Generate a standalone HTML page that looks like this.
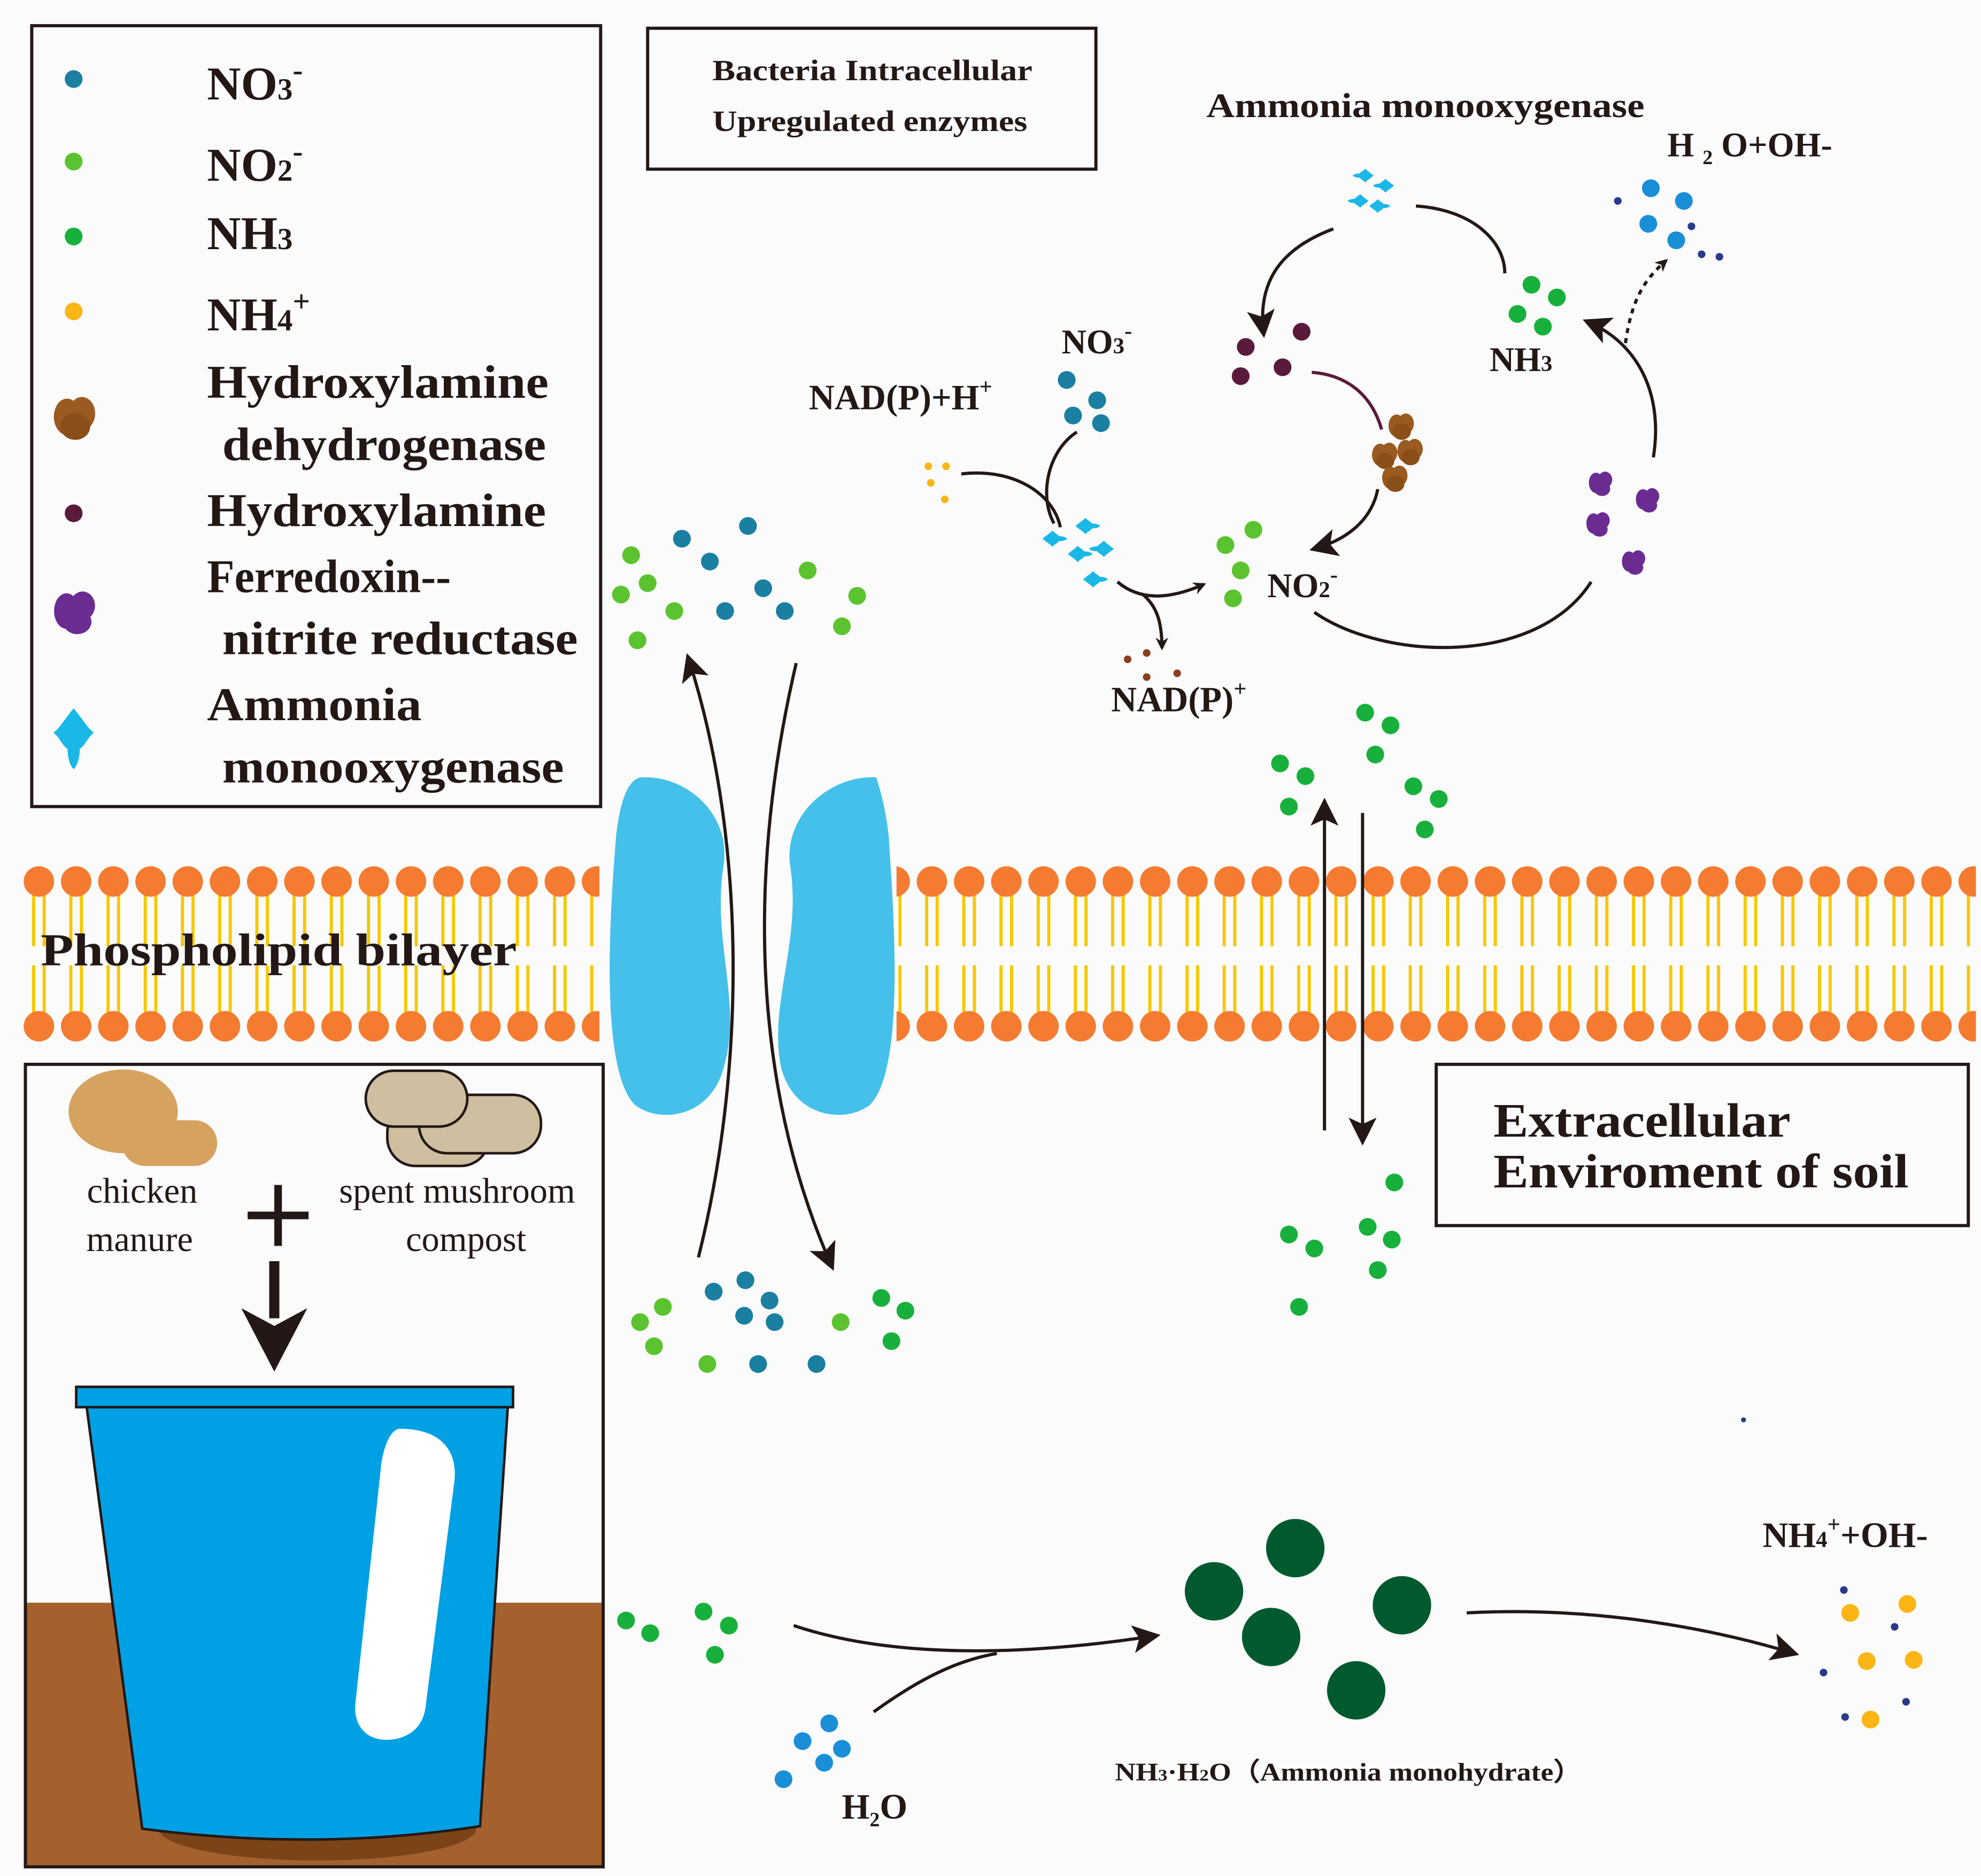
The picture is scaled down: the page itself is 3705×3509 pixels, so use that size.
<!DOCTYPE html>
<html><head><meta charset="utf-8"><style>
html,body{margin:0;padding:0;background:#fbfbfb}
svg{display:block}
text{font-family:"Liberation Serif",serif;font-weight:bold;fill:#231815}
text.n{font-weight:normal}
</style></head><body>
<svg width="3705" height="3509" viewBox="0 0 1560 1477" xmlns="http://www.w3.org/2000/svg">
<defs>
<marker id="ah" markerWidth="10" markerHeight="10" refX="8" refY="5" orient="auto" markerUnits="userSpaceOnUse"><path d="M0,0 L10,5 L0,10 L3,5 Z" fill="#231815"/></marker>
<marker id="ahb" markerWidth="22" markerHeight="22" refX="18" refY="11" orient="auto" markerUnits="userSpaceOnUse"><path d="M0,0 L22,11 L0,22 L5,11 Z" fill="#231815"/></marker>
<pattern id="top" x="16" y="0" width="29.3" height="760" patternUnits="userSpaceOnUse">
<line x1="10.5" y1="700" x2="10.5" y2="745" stroke="#f6c800" stroke-width="2.5"/>
<line x1="18.8" y1="700" x2="18.8" y2="745" stroke="#f6c800" stroke-width="2.5"/>
<circle cx="14.65" cy="694" r="12" fill="#f47b30"/>
</pattern>
<pattern id="bot" x="16" y="0" width="29.3" height="830" patternUnits="userSpaceOnUse">
<line x1="10.5" y1="760" x2="10.5" y2="802" stroke="#f6c800" stroke-width="2.5"/>
<line x1="18.8" y1="760" x2="18.8" y2="802" stroke="#f6c800" stroke-width="2.5"/>
<circle cx="14.65" cy="808" r="12" fill="#f47b30"/>
</pattern>
<g id="amo"><path d="M0,-14 C5,-8 7,-4 10,-2 C7,0 6,4 3,6 C3,10 2,14 0,16 C-2,14 -3,10 -3,6 C-6,4 -7,0 -10,-2 C-7,-4 -5,-8 0,-14Z" fill="#1ab8e6"/></g>
<g id="had"><ellipse cx="-4" cy="0" rx="8" ry="11" fill="#9a5a20"/><ellipse cx="5" cy="-2" rx="8" ry="10" fill="#9a5a20"/><ellipse cx="1" cy="6" rx="9" ry="8" fill="#8a4e18"/></g>
<g id="fer"><ellipse cx="-4" cy="0" rx="7" ry="10" fill="#6a2c91"/><ellipse cx="5" cy="-3" rx="7" ry="8" fill="#6a2c91"/><ellipse cx="2" cy="6" rx="8" ry="7" fill="#6a2c91"/></g>
</defs>
<rect width="1560" height="1477" fill="#fbfbfb"/>

<!-- legend -->
<rect x="25" y="20" width="448" height="615" fill="none" stroke="#231815" stroke-width="2.5"/>
<circle cx="58" cy="62" r="7" fill="#1a7fa0"/>
<circle cx="58" cy="127" r="7" fill="#5cc330"/>
<circle cx="58" cy="186" r="7" fill="#18b03c"/>
<circle cx="58" cy="245" r="7" fill="#fbb615"/>
<use href="#had" transform="translate(58,328) scale(1.3)"/>
<circle cx="58" cy="404" r="7" fill="#5a1a3c"/>
<use href="#fer" transform="translate(58,481) scale(1.4)"/>
<use href="#amo" transform="translate(58,580) scale(1.6)"/>
<g font-size="37">
<text x="163" y="78">NO<tspan font-size="24">3</tspan><tspan font-size="24" dy="-15">-</tspan></text>
<text x="163" y="142">NO<tspan font-size="24">2</tspan><tspan font-size="24" dy="-15">-</tspan></text>
<text x="163" y="196">NH<tspan font-size="24">3</tspan></text>
<text x="163" y="260">NH<tspan font-size="24">4</tspan><tspan font-size="24" dy="-15">+</tspan></text>
<text x="163" y="313" textLength="269" lengthAdjust="spacingAndGlyphs">Hydroxylamine</text>
<text x="175" y="362" textLength="255" lengthAdjust="spacingAndGlyphs">dehydrogenase</text>
<text x="163" y="414" textLength="267" lengthAdjust="spacingAndGlyphs">Hydroxylamine</text>
<text x="163" y="466" textLength="192" lengthAdjust="spacingAndGlyphs">Ferredoxin--</text>
<text x="175" y="515" textLength="280" lengthAdjust="spacingAndGlyphs">nitrite reductase</text>
<text x="163" y="567" textLength="169" lengthAdjust="spacingAndGlyphs">Ammonia</text>
<text x="175" y="616" textLength="269" lengthAdjust="spacingAndGlyphs">monooxygenase</text>
</g>

<rect x="510" y="22" width="353" height="111" fill="none" stroke="#231815" stroke-width="2.5"/>
<text x="561" y="63" font-size="23" textLength="252" lengthAdjust="spacingAndGlyphs">Bacteria Intracellular</text>
<text x="561" y="103" font-size="23" textLength="248" lengthAdjust="spacingAndGlyphs">Upregulated enzymes</text>

<!-- membrane -->
<rect x="16" y="670" width="456" height="90" fill="url(#top)"/>
<rect x="16" y="755" width="456" height="70" fill="url(#bot)"/>
<rect x="706" y="670" width="850" height="90" fill="url(#top)"/>
<rect x="706" y="755" width="850" height="70" fill="url(#bot)"/>
<text x="32" y="760" font-size="36" textLength="375" lengthAdjust="spacingAndGlyphs">Phospholipid bilayer</text>
<path d="M505,612 C540,610 575,640 570,680 C560,740 585,790 570,840 C560,880 520,885 500,870 C470,840 482,700 485,660 C488,630 495,613 505,612Z" fill="#44c0ea"/>
<path d="M690,612 C655,610 618,640 622,680 C632,740 605,790 615,840 C625,880 665,885 685,870 C715,840 702,700 700,660 C697,630 690,613 690,612Z" fill="#44c0ea"/>

<!-- channel arrows -->
<path d="M550,990 C590,830 585,650 542,518" fill="none" stroke="#231815" stroke-width="2.5" marker-end="url(#ahb)"/>
<path d="M627,522 C590,680 590,850 655,997" fill="none" stroke="#231815" stroke-width="2.5" marker-end="url(#ahb)"/>

<g fill="#5cc330"><circle cx="497" cy="437" r="7"/><circle cx="510" cy="459" r="7"/><circle cx="489" cy="468" r="7"/><circle cx="531" cy="481" r="7"/><circle cx="502" cy="504" r="7"/><circle cx="636" cy="449" r="7"/><circle cx="675" cy="469" r="7"/><circle cx="663" cy="493" r="7"/></g>
<g fill="#1a7fa0"><circle cx="537" cy="424" r="7"/><circle cx="589" cy="414" r="7"/><circle cx="559" cy="442" r="7"/><circle cx="601" cy="463" r="7"/><circle cx="571" cy="481" r="7"/><circle cx="618" cy="481" r="7"/></g>
<g fill="#5cc330"><circle cx="522" cy="1029" r="7"/><circle cx="504" cy="1041" r="7"/><circle cx="515" cy="1060" r="7"/><circle cx="557" cy="1074" r="7"/><circle cx="662" cy="1041" r="7"/></g>
<g fill="#18b03c"><circle cx="694" cy="1022" r="7"/><circle cx="713" cy="1032" r="7"/><circle cx="702" cy="1056" r="7"/></g>
<g fill="#1a7fa0"><circle cx="562" cy="1017" r="7"/><circle cx="587" cy="1008" r="7"/><circle cx="606" cy="1024" r="7"/><circle cx="586" cy="1036" r="7"/><circle cx="610" cy="1041" r="7"/><circle cx="597" cy="1074" r="7"/><circle cx="643" cy="1074" r="7"/></g>

<!-- pathway -->
<text x="950" y="92" font-size="27" textLength="345" lengthAdjust="spacingAndGlyphs">Ammonia monooxygenase</text>
<text x="1313" y="123" font-size="27">H <tspan font-size="16" dy="6">2</tspan><tspan dy="-6"> O+OH-</tspan></text>
<g transform="translate(1080,148)"><use href="#amo" transform="translate(-6,-10) rotate(90) scale(0.55)"/><use href="#amo" transform="translate(10,-2) rotate(90) scale(0.55)"/><use href="#amo" transform="translate(-10,10) rotate(90) scale(0.55)"/><use href="#amo" transform="translate(6,14) rotate(-90) scale(0.55)"/></g>
<g fill="#1a8fd8"><circle cx="1300" cy="148" r="7"/><circle cx="1326" cy="158" r="7"/><circle cx="1298" cy="176" r="7"/><circle cx="1320" cy="189" r="7"/></g>
<g fill="#2a3a8a"><circle cx="1274" cy="158" r="3"/><circle cx="1332" cy="178" r="3"/><circle cx="1340" cy="200" r="3"/><circle cx="1354" cy="202" r="3"/></g>
<path d="M1050,180 C1010,195 990,220 995,262" fill="none" stroke="#231815" stroke-width="2.5" marker-end="url(#ahb)"/>
<path d="M1115,162 C1160,165 1185,190 1185,215" fill="none" stroke="#231815" stroke-width="2.5"/>
<g fill="#18b03c"><circle cx="1206" cy="224" r="7"/><circle cx="1226" cy="234" r="7"/><circle cx="1195" cy="247" r="7"/><circle cx="1215" cy="257" r="7"/></g>
<text x="1173" y="292" font-size="27">NH<tspan font-size="18">3</tspan></text>
<path d="M1280,270 C1285,235 1295,220 1312,205" fill="none" stroke="#231815" stroke-width="2.5" stroke-dasharray="4,4" marker-end="url(#ah)"/>
<path d="M1302,360 C1310,310 1290,270 1250,253" fill="none" stroke="#231815" stroke-width="2.5" marker-end="url(#ahb)"/>
<g fill="#5a1a3c"><circle cx="981" cy="273" r="7"/><circle cx="1025" cy="261" r="7"/><circle cx="977" cy="296" r="7"/><circle cx="1010" cy="289" r="7"/></g>
<path d="M1033,293 C1060,295 1080,310 1088,338" fill="none" stroke="#5a1a3c" stroke-width="2.5"/>
<use href="#had" transform="translate(1103,335) scale(0.8)"/><use href="#had" transform="translate(1090,358) scale(0.8)"/><use href="#had" transform="translate(1110,355) scale(0.8)"/><use href="#had" transform="translate(1098,376) scale(0.8)"/>
<path d="M1085,385 C1080,410 1060,425 1035,432" fill="none" stroke="#231815" stroke-width="2.5" marker-end="url(#ahb)"/>
<use href="#fer" transform="translate(1260,380) scale(0.8)"/><use href="#fer" transform="translate(1297,393) scale(0.8)"/><use href="#fer" transform="translate(1258,412) scale(0.8)"/><use href="#fer" transform="translate(1286,442) scale(0.8)"/>
<path d="M1035,482 C1090,520 1210,525 1253,458" fill="none" stroke="#231815" stroke-width="2.5"/>
<g fill="#5cc330"><circle cx="965" cy="429" r="7"/><circle cx="987" cy="417" r="7"/><circle cx="977" cy="449" r="7"/><circle cx="971" cy="471" r="7"/></g>
<text x="998" y="470" font-size="27">NO<tspan font-size="18">2</tspan><tspan font-size="18" dy="-12">-</tspan></text>
<text x="836" y="278" font-size="27">NO<tspan font-size="18">3</tspan><tspan font-size="18" dy="-12">-</tspan></text>
<g fill="#1a7fa0"><circle cx="840" cy="299" r="7"/><circle cx="864" cy="315" r="7"/><circle cx="845" cy="327" r="7"/><circle cx="867" cy="333" r="7"/></g>
<text x="637" y="322" font-size="28">NAD(P)+H<tspan font-size="18" dy="-12">+</tspan></text>
<g fill="#fbb615"><circle cx="731" cy="367" r="3"/><circle cx="745" cy="367" r="3"/><circle cx="733" cy="380" r="3"/><circle cx="744" cy="393" r="3"/></g>
<path d="M757,373 C800,368 830,390 835,415" fill="none" stroke="#231815" stroke-width="2.5"/>
<path d="M848,340 C825,355 818,390 830,412" fill="none" stroke="#231815" stroke-width="2.5"/>
<g transform="translate(848,432)"><use href="#amo" transform="translate(-18,-8) rotate(-90) scale(0.65)"/><use href="#amo" transform="translate(8,-18) rotate(-90) scale(0.65)"/><use href="#amo" transform="translate(2,4) rotate(-90) scale(0.65)"/><use href="#amo" transform="translate(20,0) rotate(90) scale(0.65)"/><use href="#amo" transform="translate(14,24) rotate(-90) scale(0.65)"/></g>
<path d="M880,458 C900,475 925,470 948,460" fill="none" stroke="#231815" stroke-width="2.5" marker-end="url(#ah)"/>
<path d="M900,468 C912,478 915,492 915,510" fill="none" stroke="#231815" stroke-width="2.5" marker-end="url(#ah)"/>
<g fill="#8a4020"><circle cx="888" cy="519" r="3"/><circle cx="903" cy="514" r="3"/><circle cx="927" cy="530" r="3"/><circle cx="903" cy="533" r="3"/></g>
<text x="875" y="560" font-size="28">NAD(P)<tspan font-size="18" dy="-12">+</tspan></text>

<!-- right NH3 transport -->
<g fill="#18b03c"><circle cx="1075" cy="561" r="7"/><circle cx="1095" cy="571" r="7"/><circle cx="1083" cy="594" r="7"/><circle cx="1008" cy="601" r="7"/><circle cx="1028" cy="611" r="7"/><circle cx="1015" cy="635" r="7"/><circle cx="1113" cy="619" r="7"/><circle cx="1133" cy="629" r="7"/><circle cx="1122" cy="653" r="7"/></g>
<line x1="1043" y1="890" x2="1043" y2="632" stroke="#231815" stroke-width="2.5" marker-end="url(#ahb)"/>
<line x1="1073" y1="640" x2="1073" y2="898" stroke="#231815" stroke-width="2.5" marker-end="url(#ahb)"/>
<g fill="#18b03c"><circle cx="1098" cy="931" r="7"/><circle cx="1015" cy="972" r="7"/><circle cx="1035" cy="983" r="7"/><circle cx="1077" cy="966" r="7"/><circle cx="1096" cy="976" r="7"/><circle cx="1085" cy="1000" r="7"/><circle cx="1023" cy="1029" r="7"/></g>
<rect x="1131" y="838" width="419" height="127" fill="none" stroke="#231815" stroke-width="2.5"/>
<text x="1176" y="895" font-size="38" textLength="234" lengthAdjust="spacingAndGlyphs">Extracellular</text>
<text x="1176" y="935" font-size="38" textLength="327" lengthAdjust="spacingAndGlyphs">Enviroment of soil</text>
<circle cx="1373" cy="1118" r="2" fill="#2a3a8a"/>

<!-- bottom reaction -->
<g fill="#18b03c"><circle cx="493" cy="1276" r="7"/><circle cx="512" cy="1286" r="7"/><circle cx="554" cy="1269" r="7"/><circle cx="574" cy="1280" r="7"/><circle cx="563" cy="1303" r="7"/></g>
<path d="M625,1280 C700,1305 800,1305 910,1288" fill="none" stroke="#231815" stroke-width="2.5" marker-end="url(#ahb)"/>
<path d="M688,1348 C720,1325 750,1308 785,1302" fill="none" stroke="#231815" stroke-width="2.5"/>
<g fill="#1a8fd8"><circle cx="653" cy="1357" r="7"/><circle cx="632" cy="1371" r="7"/><circle cx="663" cy="1377" r="7"/><circle cx="649" cy="1388" r="7"/><circle cx="617" cy="1401" r="7"/></g>
<text x="663" y="1432" font-size="28">H<tspan font-size="16" dy="6">2</tspan><tspan dy="-6">O</tspan></text>
<g fill="#005a2e"><circle cx="1020" cy="1219" r="23"/><circle cx="956" cy="1253" r="23"/><circle cx="1104" cy="1264" r="23"/><circle cx="1001" cy="1289" r="23"/><circle cx="1068" cy="1331" r="23"/></g>
<text x="878" y="1402" font-size="20" textLength="368" lengthAdjust="spacingAndGlyphs">NH<tspan font-size="13">3</tspan>·H<tspan font-size="13">2</tspan>O（Ammonia monohydrate）</text>
<path d="M1155,1270 C1250,1265 1340,1280 1413,1302" fill="none" stroke="#231815" stroke-width="2.5" marker-end="url(#ahb)"/>
<text x="1388" y="1218" font-size="28">NH<tspan font-size="18">4</tspan><tspan font-size="18" dy="-12">+</tspan><tspan dy="12">+OH-</tspan></text>
<g fill="#fbb615"><circle cx="1457" cy="1270" r="7"/><circle cx="1502" cy="1263" r="7"/><circle cx="1470" cy="1308" r="7"/><circle cx="1507" cy="1307" r="7"/><circle cx="1473" cy="1354" r="7"/></g>
<g fill="#2a3a8a"><circle cx="1452" cy="1252" r="3"/><circle cx="1492" cy="1281" r="3"/><circle cx="1436" cy="1317" r="3"/><circle cx="1501" cy="1340" r="3"/><circle cx="1453" cy="1352" r="3"/></g>

<!-- bottom-left box -->
<rect x="20" y="1262" width="455" height="208" fill="#a4612d"/>
<rect x="20" y="838" width="455" height="632" fill="none" stroke="#231815" stroke-width="2.5"/>
<ellipse cx="250" cy="1440" rx="125" ry="25" fill="#7a4418"/>
<path d="M68,1106 L400,1106 L378,1438 Q250,1458 112,1440 Z" fill="#00a0e4" stroke="#231815" stroke-width="2"/>
<rect x="60" y="1092" width="344" height="16" fill="#00a0e4" stroke="#231815" stroke-width="2"/>
<path d="M315,1125 C345,1125 360,1140 358,1165 L335,1345 C332,1365 315,1370 305,1370 C285,1370 278,1355 280,1340 L300,1155 C302,1138 308,1125 315,1125Z" fill="#fff"/>
<ellipse cx="97" cy="875" rx="43" ry="33" fill="#d6a25f"/>
<rect x="96" y="882" width="75" height="36" rx="18" fill="#d6a25f"/>
<rect x="305" y="870" width="80" height="48" rx="22" fill="#cdbf9f" stroke="#231815" stroke-width="2"/>
<rect x="330" y="862" width="96" height="46" rx="22" fill="#cdbf9f" stroke="#231815" stroke-width="2"/>
<rect x="288" y="843" width="80" height="44" rx="22" fill="#cdbf9f" stroke="#231815" stroke-width="2"/>
<text class="n" x="112" y="947" font-size="28" text-anchor="middle">chicken</text>
<text class="n" x="110" y="985" font-size="28" text-anchor="middle">manure</text>
<text class="n" x="360" y="947" font-size="28" text-anchor="middle">spent mushroom</text>
<text class="n" x="367" y="985" font-size="28" text-anchor="middle">compost</text>
<rect x="195" y="954" width="48" height="6" fill="#231815"/>
<rect x="216" y="933" width="6" height="48" fill="#231815"/>
<rect x="212" y="993" width="8" height="45" fill="#231815"/>
<path d="M190,1030 L216,1080 L242,1030 L216,1044Z" fill="#231815"/>
</svg>
</body></html>
